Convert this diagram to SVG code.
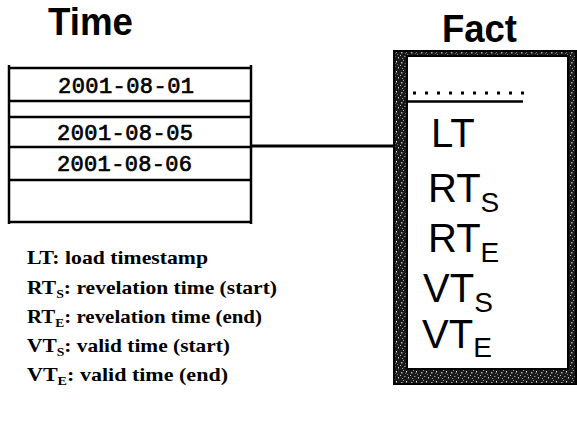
<svg xmlns="http://www.w3.org/2000/svg" width="577" height="440" viewBox="0 0 577 440">
  <style>
    .title { font-family: "Liberation Sans", Arial, sans-serif; font-weight: bold; font-size: 38px; fill: #000; }
    .date { font-family: "Liberation Mono", "Courier New", monospace; font-size: 22px; fill: #000; stroke: #000; stroke-width: 0.7; }
    .attr { font-family: "Liberation Sans", Arial, sans-serif; font-size: 40px; fill: #000; }
    .attr .sub { font-size: 28px; }
    .legend { font-family: "Liberation Serif", "Times New Roman", serif; font-weight: bold; font-size: 19.5px; fill: #000; }
    .legend .sub { font-size: 12.5px; }
    .rule { stroke: #000; stroke-width: 2.5; fill: none; }
  </style>
  <defs>
    <!-- speckled texture for the heavy frame of the fact table -->
    <pattern id="speckle" width="10" height="10" patternUnits="userSpaceOnUse">
      <rect width="10" height="10" fill="#1a1a1a"/>
      <rect x="1" y="2" width="1.5" height="1.5" fill="#aaa"/>
      <rect x="6" y="1" width="1" height="1.5" fill="#ddd"/>
      <rect x="4" y="6" width="1.5" height="1" fill="#888"/>
      <rect x="8" y="7" width="1" height="1.5" fill="#ccc"/>
      <rect x="2" y="8" width="1" height="1" fill="#999"/>
      <rect x="7" y="4" width="1" height="1" fill="#777"/>
      <rect x="0" y="5" width="1" height="1" fill="#bbb"/>
      <rect x="5" y="3" width="1" height="1" fill="#666"/>
      <rect x="3" y="0" width="1" height="1" fill="#999"/>
    </pattern>
  </defs>

  <rect width="577" height="440" fill="#fff"/>

  <!-- Time dimension table -->
  <g id="time">
    <text class="title" x="48" y="35" textLength="85" lengthAdjust="spacingAndGlyphs">Time</text>
    <line class="rule" x1="9" y1="65" x2="9" y2="224"/>
    <line class="rule" x1="251" y1="65" x2="251" y2="224"/>
    <line class="rule" x1="9" y1="68" x2="251" y2="68"/>
    <line class="rule" x1="9" y1="101" x2="251" y2="101"/>
    <line class="rule" x1="9" y1="117" x2="251" y2="117" stroke-width="3"/>
    <line class="rule" x1="9" y1="147" x2="251" y2="147"/>
    <line class="rule" x1="9" y1="180" x2="251" y2="180"/>
    <line class="rule" x1="9" y1="222" x2="251" y2="222"/>
    <text class="date" x="58" y="93" textLength="136">2001-08-01</text>
    <text class="date" x="57" y="140" textLength="136">2001-08-05</text>
    <text class="date" x="57" y="171" textLength="135">2001-08-06</text>
  </g>

  <!-- Fact table -->
  <g id="fact">
    <text class="title" x="442" y="42" textLength="75" lengthAdjust="spacingAndGlyphs">Fact</text>
    <path d="M393 50 H577 V385 H393 Z M408 57 V368 H567 V57 Z" fill="url(#speckle)" fill-rule="evenodd"/>
    <rect x="394" y="51" width="182" height="333" fill="none" stroke="#000" stroke-width="2"/>
    <rect x="407" y="56" width="161" height="313" fill="none" stroke="#000" stroke-width="2"/>
    <line x1="413" y1="93" x2="524" y2="93" stroke="#000" stroke-width="3" stroke-dasharray="3 9"/>
    <line x1="408" y1="101.5" x2="523" y2="101.5" stroke="#000" stroke-width="2.5"/>
    <text class="attr" x="431" y="147">LT</text>
    <text class="attr" x="428" y="202">RT<tspan class="sub" dy="10">S</tspan></text>
    <text class="attr" x="428" y="252">RT<tspan class="sub" dy="10">E</tspan></text>
    <text class="attr" x="423" y="302">VT<tspan class="sub" dy="10">S</tspan></text>
    <text class="attr" x="422" y="348">VT<tspan class="sub" dy="9">E</tspan></text>
  </g>

  <!-- connector between the two tables -->
  <g id="connectors">
    <line x1="251" y1="146" x2="394" y2="146" stroke="#000" stroke-width="3"/>
  </g>

  <!-- legend -->
  <g id="legend">
    <text class="legend" x="27" y="264" textLength="181" lengthAdjust="spacingAndGlyphs">LT: load timestamp</text>
    <text class="legend" x="27" y="294" textLength="250" lengthAdjust="spacingAndGlyphs">RT<tspan class="sub" dy="4">S</tspan><tspan dy="-4">: revelation time (start)</tspan></text>
    <text class="legend" x="27" y="323" textLength="235" lengthAdjust="spacingAndGlyphs">RT<tspan class="sub" dy="4">E</tspan><tspan dy="-4">: revelation time (end)</tspan></text>
    <text class="legend" x="27" y="352" textLength="203" lengthAdjust="spacingAndGlyphs">VT<tspan class="sub" dy="4">S</tspan><tspan dy="-4">: valid time (start)</tspan></text>
    <text class="legend" x="27" y="381" textLength="201" lengthAdjust="spacingAndGlyphs">VT<tspan class="sub" dy="4">E</tspan><tspan dy="-4">: valid time (end)</tspan></text>
  </g>
</svg>
